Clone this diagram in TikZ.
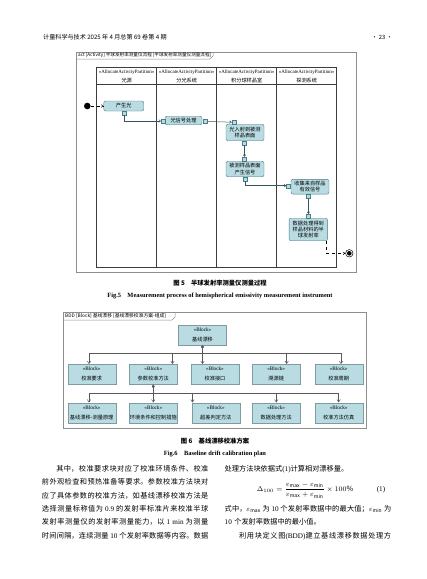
\documentclass[tikz,border=0pt]{standalone}
\usepackage{fontspec}
\setmainfont{Noto Sans CJK SC}
\newfontfamily\lat{Liberation Serif}
\usetikzlibrary{arrows.meta}
\XeTeXlinebreaklocale "zh"
\XeTeXlinebreakskip=0pt plus 1pt
\definecolor{nodefill}{HTML}{B9DCE3}
\definecolor{nodeline}{HTML}{4A7B88}
\definecolor{blkline}{HTML}{7F9AA3}
\definecolor{framegray}{HTML}{8E8E8E}
\definecolor{partline}{HTML}{3C3C3C}
\begin{document}
\begin{tikzpicture}[x=1pt,y=-1pt,>={Straight Barb[length=1.8pt,width=2.6pt]},
  every node/.style={inner sep=0pt,font=\fontsize{5}{6}\selectfont},
  act/.style={draw=nodeline,fill=nodefill,rounded corners=2pt,minimum width=38pt,align=center,font=\fontsize{5.2}{6.4}\selectfont},
  pn/.style={draw=nodeline,fill=nodefill,minimum size=4pt},
  blk/.style={draw=blkline,fill=nodefill,minimum width=48pt,minimum height=20pt,align=center,font=\fontsize{5.2}{10}\selectfont},
  capt/.style={font=\fontsize{6.3}{7}\selectfont\bfseries},
  txt/.style={anchor=north west,text width=166.5pt,align=justify,font=\fontsize{7.2}{9}\selectfont},
  dia/.style={{Diamond[length=4pt,width=3pt]}-{Straight Barb[length=2.5pt,width=3.4pt]}},
  opn/.style={-{Straight Barb[length=2.5pt,width=3.4pt]}}]
\fill[white] (0,0) rectangle (427,579);
\useasboundingbox (0,0) rectangle (427,579);
% page header
\node[anchor=west,font=\fontsize{6.1}{7}\selectfont] (hdr) at (43,37){计量科学与技术 2025 年 4 月总第 69 卷第 4 期};
\node[font=\fontsize{5.8}{7}\selectfont] (pg) at (382,37){· 23 ·};
% activity diagram
\draw[framegray,line width=0.6pt] (76,52) rectangle (356,272);
\draw[framegray,line width=0.5pt] (76,59)--(210,59)--(213,56)--(213,52);
\node[anchor=west,font=\fontsize{4.6}{5}\selectfont] (actlbl) at (78,55.5){act [Activity] 半球发射率测量仪流程 [半球发射率测量仪测量流程]};
\draw[partline,line width=0.6pt] (96.7,67.7) rectangle (336.7,267.3);
\draw[partline,line width=0.6pt] (96.7,84.3)--(336.7,84.3);
\foreach \x in {156.7,216.7,276.7} \draw[partline,line width=0.6pt] (\x,67.7)--(\x,267.3);
\foreach \x/\t [count=\i] in {126.7/光源,186.7/分光系统,246.7/积分球样品室,306.7/探测系统}{
  \node[font=\lat\fontsize{5}{6}\selectfont] (st\i) at (\x,72.6){«AllocateActivityPartition»};
  \node[font=\fontsize{5.2}{6}\selectfont] (pt\i) at (\x,80.6){\t};}
\node[circle,fill=black,minimum size=6.6pt] (ini) at (87.3,106){};
\node[act,minimum width=40pt,minimum height=10pt] (n1) at (123.7,106){产生光};
\node[pn] (p1o) at (124,113){};
\node[act,minimum width=37pt,minimum height=8.5pt] (n2) at (183.5,120.5){光信号处理};
\node[pn] (p2i) at (163.2,121){};\node[pn] (p2o) at (205.5,121.5){};
\node[act,minimum height=16.5pt] (n3) at (245,132.5){光入射到被测\\样品表面};
\node[pn] (p3i) at (234,122.2){};\node[pn] (p3o) at (244.5,143){};
\node[act,minimum height=15.5pt] (n4) at (245,169){被测样品表面\\产生信号};
\node[pn] (p4i) at (244.5,159){};\node[pn] (p4o) at (245,179){};
\node[act,minimum height=14.7pt] (n5) at (310,186.7){收集来自样品\\有效信号};
\node[pn] (p5i) at (288.5,185.7){};\node[pn] (p5o) at (308.3,196.3){};
\node[act,minimum width=38.5pt,minimum height=22.5pt] (n6) at (308.3,229.5){数据处理得到\\样品材料的半\\球发射率};
\node[pn] (p6i) at (308.3,216.3){};
\node[circle,draw=black,line width=0.5pt,minimum size=7.5pt,path picture={\fill (path picture bounding box.center) circle (2.3pt);}] (fin) at (349.3,253.3){};
\draw[dashed,->,line width=0.5pt] (ini)--(n1);
\draw[->,line width=0.5pt,nodeline!70!black] (p1o) |- (p2i);
\draw[->,line width=0.5pt,nodeline!70!black] (p2o)--(p3i);
\draw[->,line width=0.5pt,nodeline!70!black] (p3o)--(p4i);
\draw[->,line width=0.5pt,nodeline!70!black] (p4o) |- (p5i);
\draw[->,line width=0.5pt,nodeline!70!black] (p5o)--(p6i);
\draw[dashed,->,line width=0.5pt] ([xshift=-1.5pt]n6.south east) |- (fin);
\node[capt] (cap5) at (220,283){图 5\quad 半球发射率测量仪测量过程};
\node[capt,font=\lat\fontsize{6.4}{7}\selectfont\bfseries] (fig5) at (220,296){Fig.5\quad Measurement process of hemispherical emissivity measurement instrument};
% block definition diagram
\draw[framegray,line width=0.6pt] (63,312) rectangle (366,428);
\draw[framegray,line width=0.5pt] (63,320)--(172,320)--(175,317)--(175,312);
\node[anchor=west,font=\fontsize{4.8}{5}\selectfont] (bddlbl) at (65,316.2){BDD [Block] 基线漂移 [基线漂移校准方案-组成]};
\node[blk,minimum height=19.5pt] (b0) at (202.5,335){{\lat«Block»}\\基线漂移};
\foreach \x/\t [count=\i] in {91.7/校准要求,153.3/参数校准方法,215/校准接口,276.2/溯源链,338.7/校准周期}
  \node[blk] (b\i) at (\x,374.2){{\lat«Block»}\\\t};
\foreach \x/\t [count=\i] in {91.7/基线漂移-测量原理,153.3/环境条件和控制措施,215.8/超差判定方法,276.2/数据处理方法,338.7/校准方法仿真}
  \node[blk,minimum height=20.6pt] (c\i) at (\x,413){{\lat«Block»}\\\t};
\begin{scope}[draw=black!65,line width=0.5pt]
\coordinate (j1) at (202.5,353.3);\coordinate (j2) at (153.3,393.5);
\draw[dia] (b0.south)--(b0.south |- b3.north);
\draw[opn] (j1) -| ([xshift=-2.7pt]b1.north);
\draw[opn] (j1) -| ([xshift=-5pt]b2.north east);
\draw[opn] (j1) -| ([xshift=10.5pt]b4.north);
\draw[opn] (j1) -| ([xshift=2.3pt]b5.north);
\draw[dia] (b2.south)--(c2.north);
\draw[opn] (j2) -| ([xshift=-2.7pt]c1.north);
\draw[opn] (j2) -| ([xshift=0.8pt]c3.north west);
\draw[opn] (j2) -| (c4.north);
\draw[opn] (j2) -| (c5.north);
\end{scope}
\node[capt] (cap6) at (215,441.5){图 6\quad 基线漂移校准方案};
\node[capt,font=\lat\fontsize{6.4}{7}\selectfont\bfseries] (fig6) at (215,453.5){Fig.6\quad Baseline drift calibration plan};
% body text
\foreach \t [count=\i] in {{\hspace*{2em}其中，校准要求块对应了校准环境条件、校准},
  {前外观检查和预热准备等要求。参数校准方法块对},
  {应了具体参数的校准方法，如基线漂移校准方法是},
  {选择测量标称值为 {\lat 0.9} 的发射率标准片来校准半球},
  {发射率测量仪的发射率测量能力，以 {\lat 1 min} 为测量},
  {时间间隔，连续测量 {\lat 10} 个发射率数据等内容。数据}}
  \node[txt] (l\i) at (41.7,{465+13.4*(\i-1)}){\noindent\parfillskip=0pt \t\endgraf};
\node[txt,text width=170pt,align=left] (r1) at (224.5,465){处理方法块依据式{\lat (1)}计算相对漂移量。};
\node[font=\fontsize{7.2}{9}\selectfont] (eq) at (305,490){$\displaystyle\Delta_{100}=\frac{\varepsilon_{\max}-\varepsilon_{\min}}{\varepsilon_{\max}+\varepsilon_{\min}}\times 100\%$};
\node[font=\lat\fontsize{7.2}{9}\selectfont] (eqn) at (381,490){(1)};
\node[txt] (r3) at (224.5,505){\noindent\parfillskip=0pt 式中，$\varepsilon_{\max}$ 为 {\lat 10} 个发射率数据中的最大值；$\varepsilon_{\min}$ 为\endgraf};
\node[txt,align=left] (r4) at (224.5,518.4){{\lat 10} 个发射率数据中的最小值。};
\node[txt] (r5) at (224.5,531.8){\noindent\parfillskip=0pt \hspace*{2em}利用块定义图{\lat (BDD)}建立基线漂移数据处理方\endgraf};
\end{tikzpicture}
\end{document}
